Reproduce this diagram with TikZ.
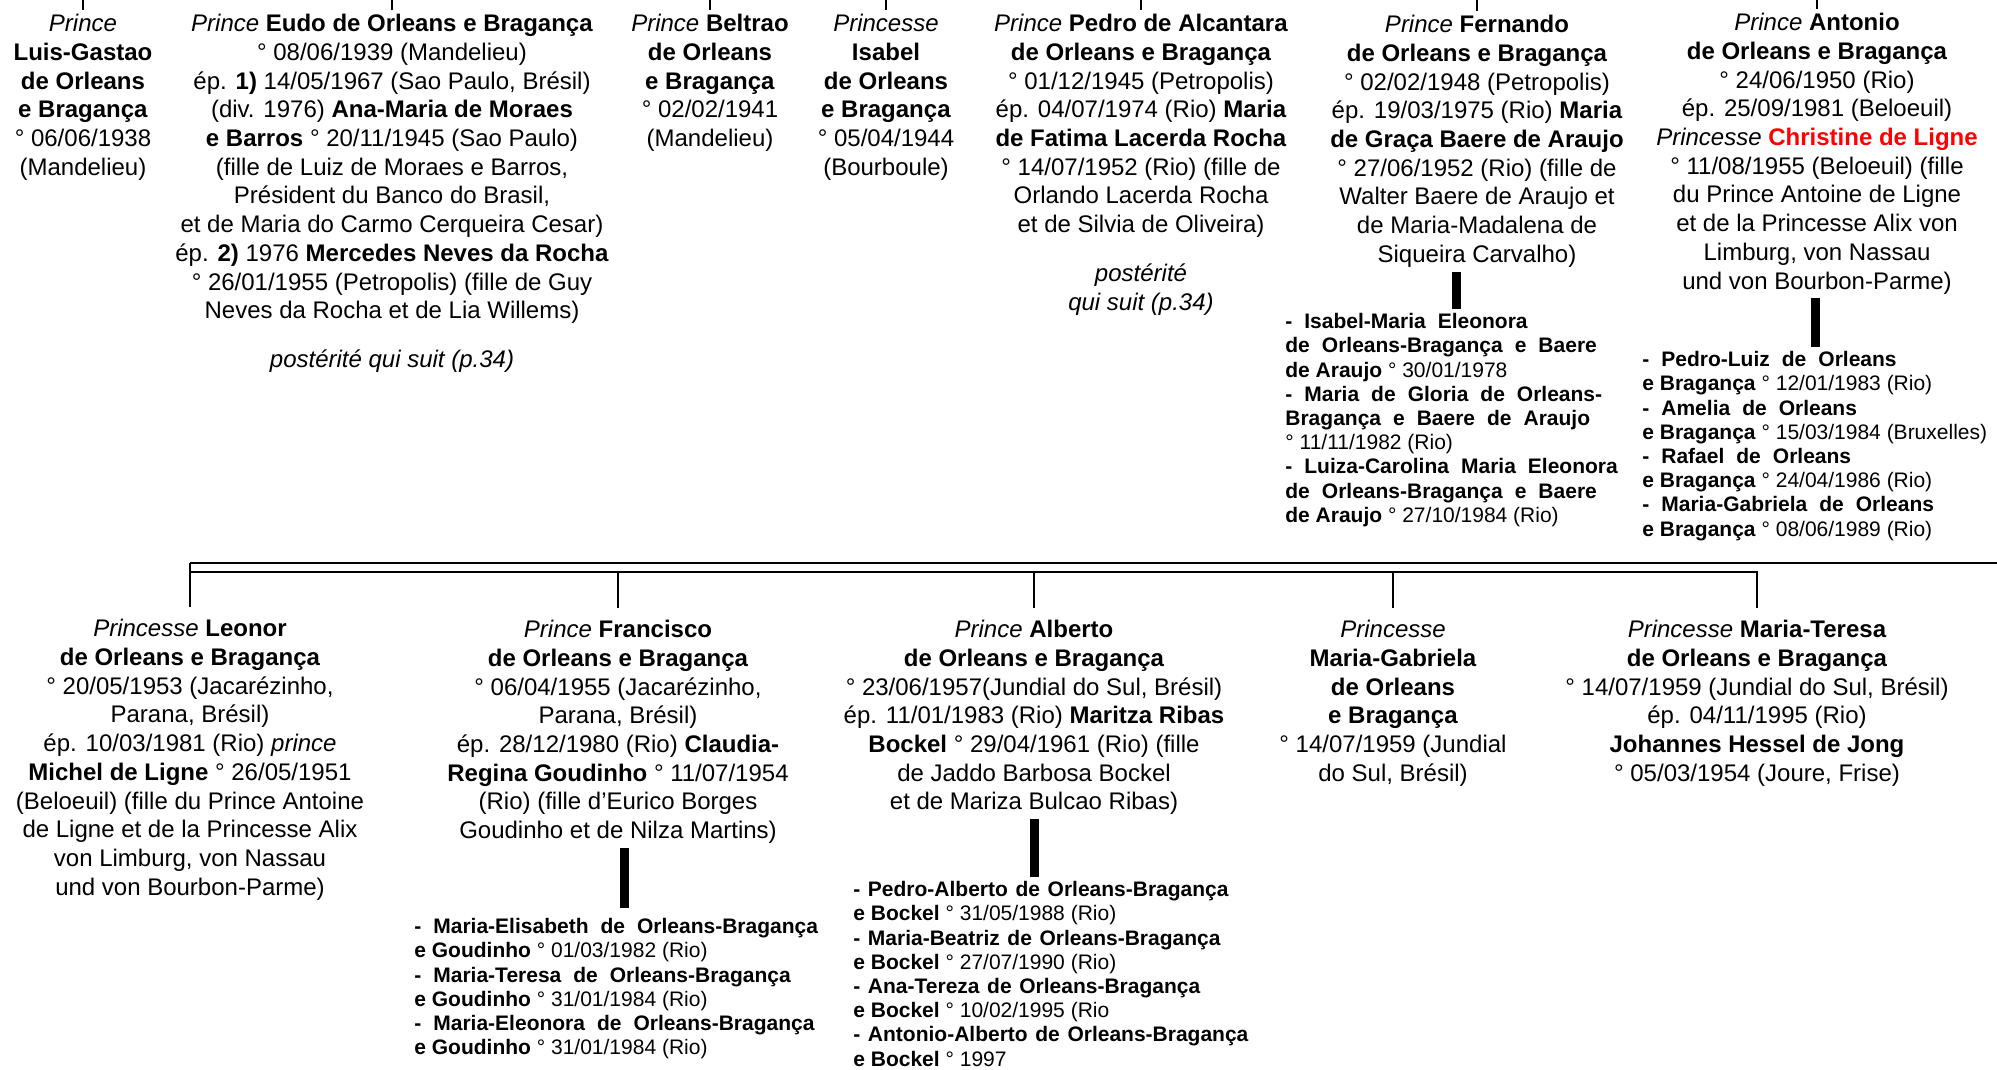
\documentclass[tikz,border=0pt]{standalone}
\usepackage{fontspec}
\setmainfont{Liberation Sans}
\usetikzlibrary{positioning}

\tikzset{
  person/.style={align=center,anchor=north,inner sep=2pt,font=\fontsize{12}{14.35}\selectfont},
  kids/.style={align=left,anchor=north west,inner sep=2pt,font=\fontsize{10.5}{12.1}\selectfont},
  tick/.style={line width=0.8pt},
  rail/.style={line width=1.4pt},
  bar/.style={line width=4.5pt}
}
\newcommand{\pr}[1]{\textit{#1}}
\newcommand{\nm}[1]{\textbf{#1}}
\newcommand{\kn}[2][6pt]{{\bfseries\spaceskip=#1 plus 1pt\relax #2}}

\begin{document}
\begin{tikzpicture}[x=0.5pt,y=-0.5pt]
%
\useasboundingbox (0,0) rectangle (1997,1070);
%
% first generation
\node[person] (luis) at (83,10) {\pr{Prince}\\\nm{Luis-Gastao}\\\nm{de Orleans}\\\nm{e Bragança}\\° 06/06/1938\\(Mandelieu)};
\node[person] (eudo) at (392,10) {\pr{Prince} \nm{Eudo de Orleans e Bragança}\\
° 08/06/1939 (Mandelieu)\\
ép. \nm{1)} 14/05/1967 (Sao Paulo, Brésil)\\
(div. 1976) \nm{Ana-Maria de Moraes}\\
\nm{e Barros} ° 20/11/1945 (Sao Paulo)\\
(fille de Luiz de Moraes e Barros,\\
Président du Banco do Brasil,\\
et de Maria do Carmo Cerqueira Cesar)\\
ép. \nm{2)} 1976 \nm{Mercedes Neves da Rocha}\\
° 26/01/1955 (Petropolis) (fille de Guy\\
Neves da Rocha et de Lia Willems)\\[10pt]
\pr{postérité qui suit (p.34)}};
\node[person] (beltrao) at (710,10) {\pr{Prince} \nm{Beltrao}\\\nm{de Orleans}\\\nm{e Bragança}\\° 02/02/1941\\(Mandelieu)};
\node[person] (isabel) at (886,10) {\pr{Princesse}\\\nm{Isabel}\\\nm{de Orleans}\\\nm{e Bragança}\\° 05/04/1944\\(Bourboule)};
\node[person] (pedro) at (1141,10) {\pr{Prince} \nm{Pedro de Alcantara}\\\nm{de Orleans e Bragança}\\
° 01/12/1945 (Petropolis)\\
ép. 04/07/1974 (Rio) \nm{Maria}\\
\nm{de Fatima Lacerda Rocha}\\
° 14/07/1952 (Rio) (fille de\\
Orlando Lacerda Rocha\\
et de Silvia de Oliveira)\\[10pt]
\pr{postérité}\\\pr{qui suit (p.34)}};
\node[person] (fernando) at (1477,11) {\pr{Prince} \nm{Fernando}\\\nm{de Orleans e Bragança}\\
° 02/02/1948 (Petropolis)\\
ép. 19/03/1975 (Rio) \nm{Maria}\\
\nm{de Graça Baere de Araujo}\\
° 27/06/1952 (Rio) (fille de\\
Walter Baere de Araujo et\\
de Maria-Madalena de\\
Siqueira Carvalho)};
\node[person] (antonio) at (1817,9) {\pr{Prince} \nm{Antonio}\\\nm{de Orleans e Bragança}\\
° 24/06/1950 (Rio)\\
ép. 25/09/1981 (Beloeuil)\\
\pr{Princesse} \textcolor{red}{\nm{Christine de Ligne}}\\
° 11/08/1955 (Beloeuil) (fille\\
du Prince Antoine de Ligne\\
et de la Princesse Alix von\\
Limburg, von Nassau\\
und von Bourbon-Parme)};
%
% their children
\node[kids] (fkids) at (1281,309) {\kn{- Isabel-Maria Eleonora}\\
\kn{de Orleans-Bragança e Baere}\\
\nm{de Araujo} ° 30/01/1978\\
\kn{- Maria de Gloria de Orleans-}\\
\kn{Bragança e Baere de Araujo}\\
° 11/11/1982 (Rio)\\
\kn{- Luiza-Carolina Maria Eleonora}\\
\kn{de Orleans-Bragança e Baere}\\
\nm{de Araujo} ° 27/10/1984 (Rio)};
\node[kids] (akids) at (1638,347) {\kn{- Pedro-Luiz de Orleans}\\
\nm{e Bragança} ° 12/01/1983 (Rio)\\
\kn{- Amelia de Orleans}\\
\nm{e Bragança} ° 15/03/1984 (Bruxelles)\\
\kn{- Rafael de Orleans}\\
\nm{e Bragança} ° 24/04/1986 (Rio)\\
\kn{- Maria-Gabriela de Orleans}\\
\nm{e Bragança} ° 08/06/1989 (Rio)};
%
% second generation
\node[person] (leonor) at (190,615) {\pr{Princesse} \nm{Leonor}\\\nm{de Orleans e Bragança}\\
° 20/05/1953 (Jacarézinho,\\
Parana, Brésil)\\
ép. 10/03/1981 (Rio) \pr{prince}\\
\nm{Michel de Ligne} ° 26/05/1951\\
(Beloeuil) (fille du Prince Antoine\\
de Ligne et de la Princesse Alix\\
von Limburg, von Nassau\\
und von Bourbon-Parme)};
\node[person] (francisco) at (618,616) {\pr{Prince} \nm{Francisco}\\\nm{de Orleans e Bragança}\\
° 06/04/1955 (Jacarézinho,\\
Parana, Brésil)\\
ép. 28/12/1980 (Rio) \nm{Claudia-}\\
\nm{Regina Goudinho} ° 11/07/1954\\
(Rio) (fille d’Eurico Borges\\
Goudinho et de Nilza Martins)};
\node[person] (alberto) at (1034,616) {\pr{Prince} \nm{Alberto}\\\nm{de Orleans e Bragança}\\
° 23/06/1957(Jundial do Sul, Brésil)\\
ép. 11/01/1983 (Rio) \nm{Maritza Ribas}\\
\nm{Bockel} ° 29/04/1961 (Rio) (fille\\
de Jaddo Barbosa Bockel\\
et de Mariza Bulcao Ribas)};
\node[person] (mgabriela) at (1393,616) {\pr{Princesse}\\\nm{Maria-Gabriela}\\\nm{de Orleans}\\\nm{e Bragança}\\
° 14/07/1959 (Jundial\\
do Sul, Brésil)};
\node[person] (mteresa) at (1757,616) {\pr{Princesse} \nm{Maria-Teresa}\\\nm{de Orleans e Bragança}\\
° 14/07/1959 (Jundial do Sul, Brésil)\\
ép. 04/11/1995 (Rio)\\
\nm{Johannes Hessel de Jong}\\
° 05/03/1954 (Joure, Frise)};
%
\node[kids] (frkids) at (410,914) {\kn{- Maria-Elisabeth de Orleans-Bragança}\\
\nm{e Goudinho} ° 01/03/1982 (Rio)\\
\kn{- Maria-Teresa de Orleans-Bragança}\\
\nm{e Goudinho} ° 31/01/1984 (Rio)\\
\kn{- Maria-Eleonora de Orleans-Bragança}\\
\nm{e Goudinho} ° 31/01/1984 (Rio)};
\node[kids] (alkids) at (849,877) {\kn[3.8pt]{- Pedro-Alberto de Orleans-Bragança}\\
\nm{e Bockel} ° 31/05/1988 (Rio)\\
\kn[3.8pt]{- Maria-Beatriz de Orleans-Bragança}\\
\nm{e Bockel} ° 27/07/1990 (Rio)\\
\kn[3.8pt]{- Ana-Tereza de Orleans-Bragança}\\
\nm{e Bockel} ° 10/02/1995 (Rio\\
\kn[3.8pt]{- Antonio-Alberto de Orleans-Bragança}\\
\nm{e Bockel} ° 1997};
%
% lines from above
\coordinate (top) at (0,0);
\foreach \n in {luis,eudo,beltrao,isabel,pedro,fernando,antonio}
  \draw[tick] (\n.north |- top) -- (\n.north);
%
% rail of the second generation
\coordinate (railL) at (190,563);
\coordinate (railR) at (1997,563);
\coordinate (railLow) at (190,572);
\draw[rail] (railL) -- (railR);
\draw[tick,shorten >=4pt] (railL) -- (leonor.north);
\draw[tick,shorten >=4pt] (railLow) -| (mteresa.north);
\foreach \n in {francisco,alberto,mgabriela}
  \draw[tick,shorten >=4pt] (\n.north |- railLow) -- (\n.north);
%
% bars to the children
\coordinate (fbar) at (1456,0);
\coordinate (abar) at (1815,0);
\coordinate (frbar) at (624,0);
\coordinate (albar) at (1034,0);
\draw[bar] (fernando.south -| fbar) -- (fkids.north -| fbar);
\draw[bar] (antonio.south -| abar) -- (akids.north -| abar);
\draw[bar,shorten >=3pt] (francisco.south -| frbar) -- (frkids.north -| frbar);
\draw[bar] (alberto.south -| albar) -- (alkids.north -| albar);
%
\end{tikzpicture}
\end{document}
